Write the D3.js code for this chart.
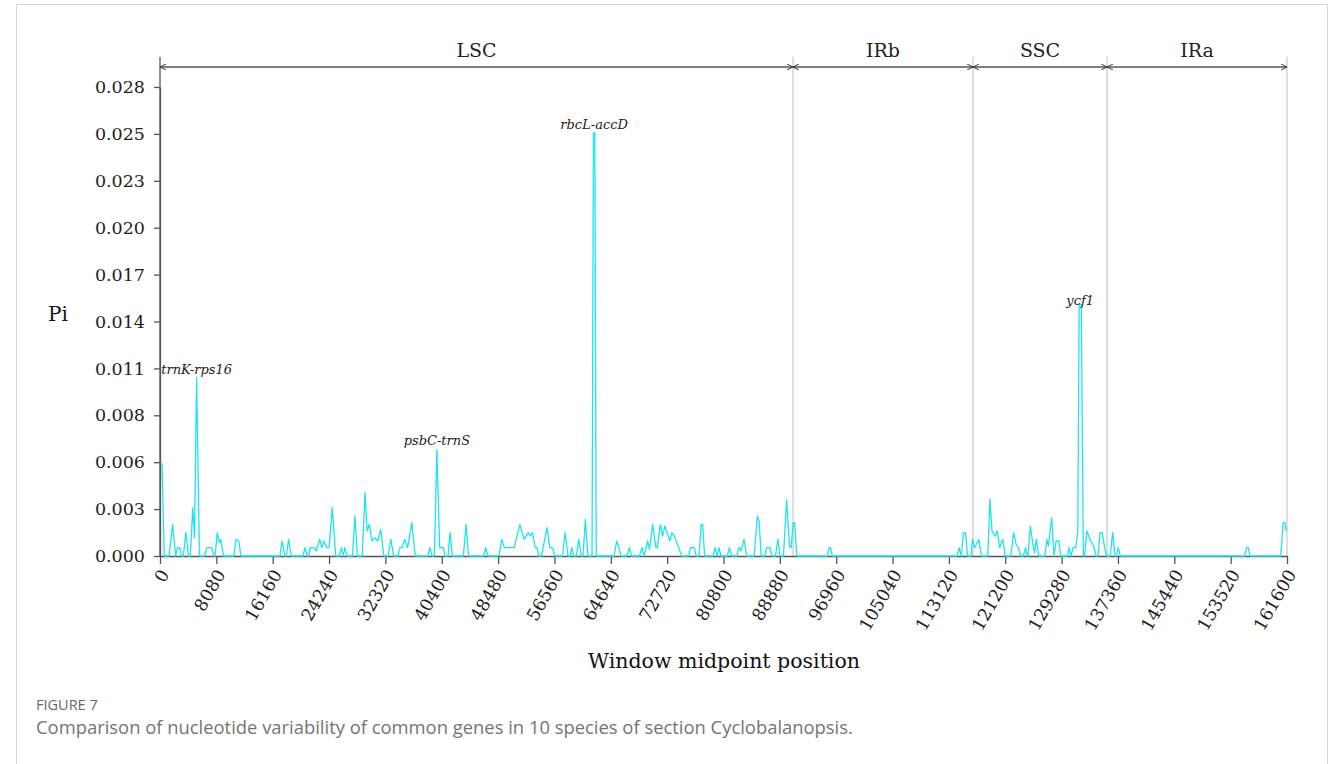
<!DOCTYPE html>
<html>
<head>
<meta charset="utf-8">
<script src="https://cdn.jsdelivr.net/npm/d3@7"></script>
<style>
  body { margin: 0; background: #fff; }
  svg { display: block; }
  .serif { font-family: "DejaVu Serif", serif; }
</style>
</head>
<body>
<svg id="chart"></svg>
<script>
// ---- data ----
// region boundaries along the plastome (bp)
const regionNames = ["LSC", "IRb", "SSC", "IRa"];
const regionBounds = [0, 90770, 116580, 135800, 161600];

const xTickValues = [0, 8080, 16160, 24240, 32320, 40400, 48480, 56560, 64640, 72720, 80800,
  88880, 96960, 105040, 113120, 121200, 129280, 137360, 145440, 153520, 161600];
const yTickValues = [0, 0.002815, 0.00563, 0.008445, 0.01126, 0.014075, 0.01689, 0.019705,
  0.02252, 0.025335, 0.02815];

// [window midpoint, Pi]
const lscWindows = [
  [100, 0.0056], [300, 0.0055], [600, 0], [1300, 0], [1800, 0.0019], [2250, 0],
  [2500, 0.0005], [2800, 0.0005], [3100, 0], [3350, 0], [3700, 0.0014], [4100, 0],
  [4350, 0], [4700, 0.0029], [4950, 0.0011], [5250, 0.0107], [5650, 0],
  [6400, 0], [6700, 0.0005], [7400, 0.0005], [7700, 0], [7900, 0], [8200, 0.0014],
  [8500, 0.0008], [8700, 0.001], [9100, 0], [10600, 0], [10900, 0.001], [11300, 0.0009], [11600, 0],
  [17200, 0], [17500, 0.0009], [17900, 0], [18100, 0], [18450, 0.001], [18800, 0],
  [20500, 0], [20800, 0.0005], [21100, 0], [21300, 0], [21550, 0.0005], [21800, 0.0005],
  [22100, 0.0005], [22400, 0.0003], [22900, 0.001], [23200, 0.0005], [23500, 0.0009],
  [23900, 0.0005], [24250, 0.0005], [24700, 0.0029], [25200, 0],
  [25700, 0], [26000, 0.0005], [26300, 0], [26500, 0.0005], [26900, 0],
  [27600, 0], [27950, 0.0024], [28300, 0], [29000, 0], [29400, 0.0038], [29700, 0.0015],
  [30000, 0.0019], [30400, 0.0009], [30800, 0.0011], [31200, 0.0009], [31650, 0.0016], [32100, 0],
  [32700, 0], [33100, 0.001], [33500, 0], [34100, 0], [34400, 0.0005], [34700, 0.0005],
  [35100, 0.001], [35500, 0.0005], [36100, 0.002], [36600, 0],
  [38400, 0], [38700, 0.0005], [39000, 0], [39350, 0], [39700, 0.0064], [40100, 0.0005],
  [40600, 0.0005], [40900, 0], [41300, 0], [41600, 0.0014], [41900, 0],
  [43500, 0], [43880, 0.0019], [44250, 0], [46400, 0], [46700, 0.0005], [47000, 0],
  [48600, 0], [49000, 0.001], [49400, 0.0005], [50800, 0.0005], [51600, 0.0019],
  [52200, 0.001], [52800, 0.0014], [53100, 0.0012], [53400, 0.0014], [53800, 0.0005],
  [54100, 0.0005], [54300, 0], [54700, 0], [55500, 0.0017], [55900, 0.0005], [56300, 0.0005], [56600, 0],
  [57700, 0], [58100, 0.0014], [58500, 0], [58800, 0], [59050, 0.0005], [59300, 0],
  [59700, 0], [60050, 0.001], [60400, 0], [60650, 0], [61000, 0.0022], [61350, 0],
  [61950, 0], [62150, 0.0254], [62350, 0.0254], [62550, 0],
  [65100, 0], [65500, 0.0009], [65800, 0.0005], [66100, 0], [66950, 0], [67300, 0.0005], [67600, 0],
  [68750, 0], [69100, 0.0005], [69400, 0], [69600, 0.0003], [69900, 0.0009], [70200, 0.0004],
  [70650, 0.0019], [71100, 0.0005], [71300, 0.0005], [71750, 0.0019], [72050, 0.0012],
  [72400, 0.0018], [72800, 0.0013], [73100, 0.0009], [73400, 0.0014], [73750, 0.0012],
  [74100, 0.0008], [74400, 0.0005], [74800, 0],
  [75800, 0], [76050, 0.0005], [76600, 0.0005], [76900, 0], [77300, 0], [77600, 0.0019],
  [77800, 0.0019], [78100, 0], [79300, 0], [79600, 0.0005], [79900, 0], [80150, 0.0005], [80450, 0],
  [81350, 0], [81650, 0.0005], [81950, 0], [82700, 0], [83000, 0.0005], [83300, 0.0003],
  [83750, 0.001], [84100, 0], [85200, 0], [85650, 0.0024], [85900, 0.0021], [86200, 0],
  [86700, 0], [87000, 0.0005], [87450, 0.0005], [87750, 0], [88250, 0], [88600, 0.001], [88900, 0],
  [89400, 0], [89850, 0.0034], [90250, 0.0006]
];
const irbWindows = [
  [90500, 0.0005], [90800, 0.002], [91000, 0.002], [91300, 0],
  [95700, 0], [95950, 0.0005], [96150, 0.0005], [96400, 0],
  [114300, 0], [114600, 0.0005], [114900, 0], [115200, 0.0014], [115500, 0.0014], [115800, 0],
  [116300, 0], [116500, 0.001]
];
const sscWindows = [
  [116800, 0.0005], [117400, 0.001], [117800, 0],
  [118700, 0], [119000, 0.0034], [119300, 0.0015], [119700, 0.0012], [120050, 0.0015],
  [120400, 0.0005], [120850, 0.001], [121200, 0],
  [122000, 0], [122400, 0.0014], [122750, 0.0007], [123100, 0.0005], [123400, 0],
  [123800, 0], [124100, 0.0005], [124350, 0], [124450, 0], [124800, 0.0018], [125200, 0.0006],
  [125400, 0.0002], [125650, 0.001], [126000, 0],
  [126900, 0], [127150, 0.001], [127400, 0.0006], [127850, 0.0023], [128200, 0],
  [128500, 0.0009], [128900, 0.0009], [129150, 0],
  [130150, 0], [130350, 0.0005], [130650, 0], [130900, 0.0005], [131300, 0.0005],
  [131600, 0.0014], [131800, 0.0151], [132100, 0.0151], [132400, 0],
  [132550, 0], [132900, 0.0015], [133350, 0.001], [133900, 0.0006], [134200, 0],
  [134500, 0], [134800, 0.0014], [135100, 0.0014], [135450, 0.0005], [135750, 0]
];
const iraWindows = [
  [136250, 0], [136600, 0.0014], [136950, 0], [137150, 0], [137400, 0.0005], [137700, 0],
  [155550, 0], [155800, 0.0005], [156050, 0.0005], [156300, 0],
  [160700, 0], [161050, 0.002], [161300, 0.002], [161500, 0.0015]
];

// labelled hotspots
const hotspotNames = ["trnK-rps16", "psbC-trnS", "rbcL-accD", "ycf1"];
const hotspotPos = [5250, 39700, 62250, 131950];
const hotspotPi = [0.0107, 0.0064, 0.0254, 0.0148];

// ---- layout ----
const config = { width: 1330, height: 764, margin: { top: 87, right: 43, bottom: 208, left: 160 } };
const plotTop = 57;   // region lines reach up to the arrow row
const arrowY = 67;

const svg = d3.select('#chart')
  .attr('width', config.width)
  .attr('height', config.height);

// figure frame
svg.append('rect')
  .attr('x', 16.5).attr('y', 4.5)
  .attr('width', 1311).attr('height', 800)
  .attr('fill', 'none').attr('stroke', '#d4d4d4');

const xScale = d3.scaleLinear()
  .domain([0, 161600])
  .range([config.margin.left, config.width - config.margin.right]);

const yScale = d3.scaleLinear()
  .domain([0, 0.02815])
  .range([config.height - config.margin.bottom, config.margin.top]);

const y0 = yScale(0);

// region separator lines
svg.append('g').selectAll('line')
  .data(regionBounds.slice(1))
  .join('line')
  .attr('x1', d => xScale(d)).attr('x2', d => xScale(d))
  .attr('y1', plotTop).attr('y2', y0)
  .attr('stroke', '#bdbdbd').attr('stroke-width', 1);

// arrow row with region names
const defs = svg.append('defs');
defs.append('marker')
  .attr('id', 'head')
  .attr('viewBox', '0 -5 10 10')
  .attr('refX', 10).attr('refY', 0)
  .attr('markerWidth', 6).attr('markerHeight', 6)
  .attr('markerUnits', 'userSpaceOnUse')
  .attr('orient', 'auto-start-reverse')
  .append('path')
  .attr('d', 'M0,-5L10,0L0,5')
  .attr('fill', 'none').attr('stroke', '#333').attr('stroke-width', 1.6);

const regions = regionNames.map((name, i) => ({ name, start: regionBounds[i], end: regionBounds[i + 1] }));

svg.append('g').selectAll('line')
  .data(regions)
  .join('line')
  .attr('x1', d => xScale(d.start)).attr('x2', d => xScale(d.end))
  .attr('y1', arrowY).attr('y2', arrowY)
  .attr('stroke', '#555').attr('stroke-width', 1.3)
  .attr('marker-start', 'url(#head)')
  .attr('marker-end', 'url(#head)');

svg.append('g').selectAll('text')
  .data(regions)
  .join('text')
  .attr('class', 'serif')
  .attr('x', d => xScale((d.start + d.end) / 2))
  .attr('y', 57)
  .attr('text-anchor', 'middle')
  .attr('font-size', 19)
  .attr('fill', '#222')
  .text(d => d.name);

// axes
const xAxis = d3.axisBottom(xScale).tickValues(xTickValues).tickFormat(d3.format('d')).tickSize(8).tickSizeOuter(0);
const yAxis = d3.axisLeft(yScale).tickValues(yTickValues).tickFormat(d3.format('.3f')).tickSize(6).tickSizeOuter(0);

const xAxisG = svg.append('g')
  .attr('transform', `translate(0,${y0})`)
  .call(xAxis);
xAxisG.selectAll('text')
  .attr('class', 'serif')
  .attr('font-size', 17.5)
  .attr('fill', '#222')
  .attr('text-anchor', 'end')
  .attr('x', 0).attr('y', 0)
  .attr('dy', '0.35em')
  .attr('transform', 'translate(4,15) rotate(-60)');

const yAxisG = svg.append('g')
  .attr('transform', `translate(${config.margin.left},0)`)
  .call(yAxis);
yAxisG.selectAll('text')
  .attr('class', 'serif')
  .attr('font-size', 17.5)
  .attr('fill', '#222')
  .attr('x', -15);

[xAxisG, yAxisG].forEach(g => {
  g.select('.domain').attr('stroke', '#555').attr('stroke-width', 1.3);
  g.selectAll('.tick line').attr('stroke', '#555').attr('stroke-width', 1.3);
});
// y axis line runs up to the arrow row
svg.append('line')
  .attr('x1', xScale(0)).attr('x2', xScale(0))
  .attr('y1', plotTop).attr('y2', y0)
  .attr('stroke', '#555').attr('stroke-width', 1.3);

// axis titles
svg.append('text')
  .attr('class', 'serif')
  .attr('x', 724).attr('y', 668)
  .attr('text-anchor', 'middle')
  .attr('font-size', 20.5)
  .attr('fill', '#111')
  .text('Window midpoint position');

svg.append('text')
  .attr('class', 'serif')
  .attr('x', 58).attr('y', 321)
  .attr('text-anchor', 'middle')
  .attr('font-size', 20)
  .attr('fill', '#111')
  .text('Pi');

// Pi line
const windows = lscWindows.concat(irbWindows, sscWindows, iraWindows);
const line = d3.line()
  .x(d => xScale(d[0]))
  .y(d => yScale(d[1]));

svg.append('path')
  .datum(windows)
  .attr('fill', 'none')
  .attr('stroke', '#1de4ee')
  .attr('stroke-width', 1.3)
  .attr('stroke-linejoin', 'round')
  .attr('d', line);

// hotspot labels
svg.append('g').selectAll('text')
  .data(hotspotNames)
  .join('text')
  .attr('class', 'serif')
  .attr('x', (d, i) => xScale(hotspotPos[i]))
  .attr('y', (d, i) => yScale(hotspotPi[i]) - 4)
  .attr('text-anchor', 'middle')
  .attr('font-size', 13)
  .attr('font-style', 'italic')
  .attr('fill', '#222')
  .text(d => d);

// caption
svg.append('text')
  .attr('x', 36).attr('y', 710)
  .attr('font-family', '"Open Sans", sans-serif')
  .attr('font-size', 14.5)
  .attr('fill', '#666')
  .text('FIGURE 7');

svg.append('text')
  .attr('x', 36).attr('y', 734)
  .attr('font-family', '"Open Sans", sans-serif')
  .attr('font-size', 18.4)
  .attr('fill', '#747474')
  .text('Comparison of nucleotide variability of common genes in 10 species of section Cyclobalanopsis.');
</script>
</body>
</html>
